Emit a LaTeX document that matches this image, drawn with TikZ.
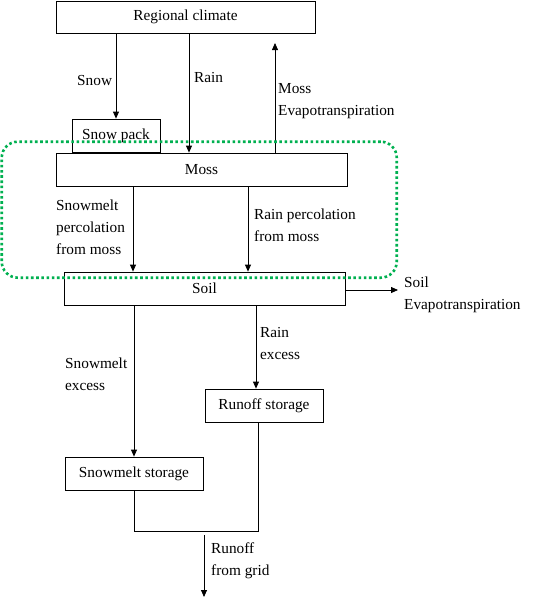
\documentclass[tikz,border=0pt]{standalone}
\usepackage{fontspec}
\setmainfont{Liberation Serif}
\usetikzlibrary{arrows.meta}
\begin{document}
\begin{tikzpicture}[x=1pt,y=1pt,
  font=\fontsize{15.3}{22}\selectfont,
  box/.style={draw=black,line width=0.8pt,rectangle,inner sep=0pt},
  lbl/.style={anchor=west,align=left,inner sep=0pt},
  arr/.style={draw=black,line width=0.8pt,-{Triangle[length=7pt,width=6pt]}},
  ln/.style={draw=black,line width=0.8pt},
  grp/.style={draw={rgb,255:red,0;green,176;blue,80},line width=2.6pt,dash pattern=on 2.6pt off 2.6pt,rounded corners=16pt,rectangle,inner sep=0pt}]
\useasboundingbox (0,0) rectangle (541,-598);
% boxes
\node[box,minimum width=259pt,minimum height=32pt] (rc) at (185.5,-17) {Regional climate};
\node[box,minimum width=88pt,minimum height=33.5pt] (sp) at (116,-135.75) {Snow pack};
\node[box,minimum width=291pt,minimum height=33pt] (moss) at (201.5,-169.5) {Moss};
\node[box,minimum width=281pt,minimum height=33pt] (soil) at (204.5,-288.5) {Soil};
\node[box,minimum width=118pt,minimum height=33pt] (rs) at (264,-405.5) {Runoff storage};
\node[box,minimum width=138pt,minimum height=33pt] (ss) at (134,-473.5) {Snowmelt storage};
% helper coordinates
\coordinate (xrain) at (189,0);
\coordinate (me) at (275,-43);
\coordinate (xsp) at (133,0);
\coordinate (xrp) at (248,0);
\coordinate (se) at (398,0);
\coordinate (xre) at (256,0);
\coordinate (xrs) at (258,0);
\coordinate (jy) at (0,-531.5);
\coordinate (ro1) at (204,-535);
\coordinate (ro2) at (204,-597);
% connectors
\draw[arr] (rc.south -| sp.north) -- (sp.north);
\draw[arr] (rc.south -| xrain) -- (moss.north -| xrain);
\draw[arr] (moss.north -| me) -- (me);
\draw[arr] (moss.south -| xsp) -- (soil.north -| xsp);
\draw[arr] (moss.south -| xrp) -- (soil.north -| xrp);
\draw[arr] (soil.east |- 0,-290) -- (se |- 0,-290);
\draw[arr] (soil.south -| ss.north) -- (ss.north);
\draw[arr] (soil.south -| xre) -- (rs.north -| xre);
\draw[ln] (ss.south) -- (ss.south |- jy) -- (xrs |- jy) -- (rs.south -| xrs);
\draw[arr] (ro1) -- (ro2);
% labels
\node[lbl] (lsnow) at (77,-81) {Snow};
\node[lbl] (lrain) at (194,-78) {Rain};
\node[lbl] (lmev) at (278,-101) {Moss\\Evapotranspiration};
\node[lbl] (lsmp) at (56,-227) {Snowmelt\\percolation\\from moss};
\node[lbl] (lrp) at (254,-225) {Rain percolation\\from moss};
\node[lbl] (lsev) at (404,-295) {Soil\\Evapotranspiration};
\node[lbl] (lsme) at (65,-374.5) {Snowmelt\\excess};
\node[lbl] (lre) at (260,-344) {Rain\\excess};
\node[lbl] (lro) at (211,-561) {Runoff\\from grid};
% dotted group
\node[grp,minimum width=395pt,minimum height=136pt] (grp) at (199.25,-209.7) {};
\end{tikzpicture}
\end{document}
